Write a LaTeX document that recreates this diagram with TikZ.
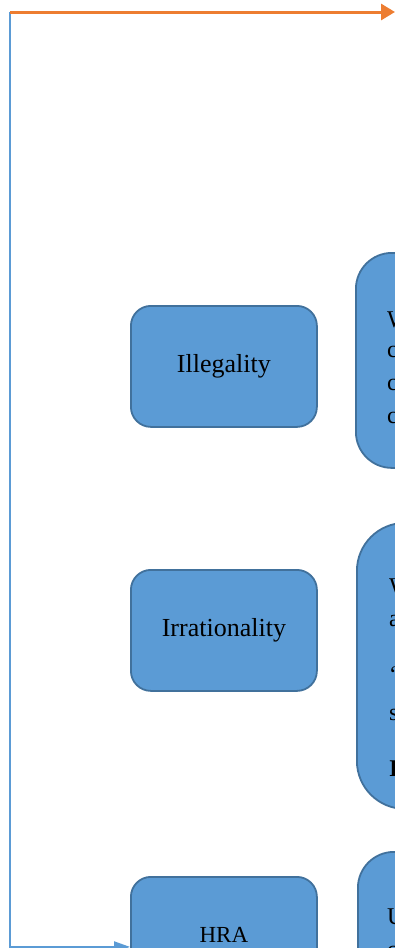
\documentclass[tikz,border=0pt]{standalone}
\usepackage{fontspec}
\setmainfont{Liberation Serif}
\usetikzlibrary{arrows.meta}

\definecolor{boxfill}{HTML}{5B9BD5}
\definecolor{boxedge}{HTML}{41719C}
\definecolor{flowblue}{HTML}{5B9BD5}
\definecolor{floworange}{HTML}{ED7D31}

\begin{document}
\begin{tikzpicture}[x=1pt,y=-1pt]

        \useasboundingbox (0,0) rectangle (395,948);
        \clip (0,0) rectangle (395,948);

        % grounds
        \begin{scope}[every node/.style={rectangle,draw=boxedge,line width=1.8pt,fill=boxfill,
            anchor=north west,inner sep=0pt,minimum width=186pt,minimum height=121pt,rounded corners=20pt}]
          \node[font=\fontsize{26}{30}\selectfont] (illegal)    at (130,305) {Illegality};
          \node[font=\fontsize{26}{30}\selectfont] (irrational) at (130,569) {Irrationality};
          \node[font=\fontsize{23}{27}\selectfont] (hra)        at (130,876) {\raisebox{5pt}{HRA}};
        \end{scope}

        % descriptions (cut off at the right)
        \begin{scope}[every node/.style={rectangle,draw=boxedge,line width=1.8pt,fill=boxfill,
            anchor=north west,inner sep=0pt,minimum width=130pt}]
          \node[minimum height=215pt,rounded corners=36pt] (illegaldesc)    at (355,252) {};
          \node[minimum height=286pt,rounded corners=48pt] (irrationaldesc) at (356,522) {};
          \node[minimum height=160pt,rounded corners=36pt] (hradesc)        at (357,851) {};
        \end{scope}

        \begin{scope}[every node/.style={anchor=base west,inner sep=0pt,font=\fontsize{24}{28}\selectfont}]
          \node (d1a) at (387,327) {W};
          \node (d1b) at (387,357) {c};
          \node (d1c) at (387,390) {c};
          \node (d1d) at (387,423) {c};

          \node (d2a) at (389,594) {W};
          \node (d2b) at (389,626) {a};
          \node (d2c) at (390,682) {“};
          \node (d2d) at (389,720) {s};
          \node (d2e) at (389,776) {\bfseries I};

          \node (d3a) at (387,924) {U};
          \node (d3b) at (387,957) {c};
        \end{scope}

        \coordinate (start) at (10,12);
        \coordinate (goal)  at (395,12);

        \draw[flowblue,line width=1.5pt,-{Triangle[length=16pt,width=11pt]}]
          (start) |- ([yshift=-9.5pt]hra.west);
        \draw[floworange,line width=3pt,-{Triangle[length=14pt,width=16pt]}]
          (start) -- (goal);

      \end{tikzpicture}
\end{document}
